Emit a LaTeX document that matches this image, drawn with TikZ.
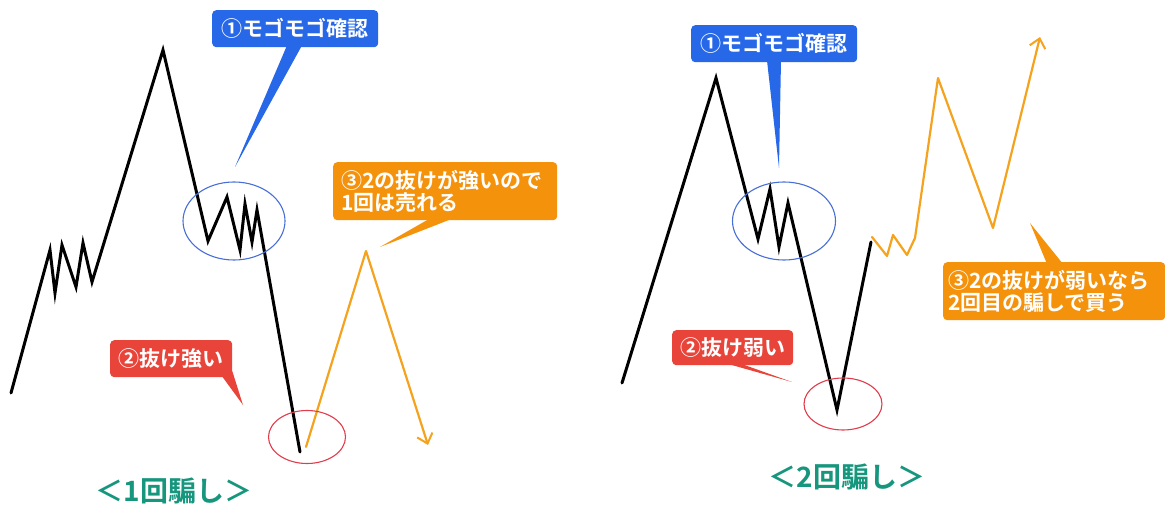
\documentclass[tikz,border=0pt]{standalone}
\usepackage{fontspec}
\newfontfamily\jp{Noto Sans CJK JP}[BoldFont={Noto Sans CJK JP Bold}]
\usetikzlibrary{arrows.meta,shapes.geometric,calc}
\definecolor{cblue}{RGB}{38,104,232}
\definecolor{corange}{RGB}{245,146,12}
\definecolor{cred}{RGB}{232,68,58}
\definecolor{lorange}{RGB}{245,163,30}
\definecolor{eblue}{RGB}{72,110,215}
\definecolor{ered}{RGB}{225,60,75}
\definecolor{cteal}{RGB}{22,150,125}
\begin{document}
\begin{tikzpicture}[x=1pt,y=-1pt,
  callout/.style={rounded corners=4pt, text=white, inner sep=0pt, anchor=north west,
    font=\jp\bfseries\fontsize{21}{22}\selectfont},
  twoline/.style={align=left, text width=#1},
  price/.style={line width=3pt, line join=miter, line cap=round},
  future/.style={lorange, line width=2.2pt, line join=round, line cap=round},
  tip/.style={-{Straight Barb[length=9pt,width=16pt,line width=2pt]}},
  ring/.style={ellipse, draw, line width=1.1pt, inner sep=0pt},
  title/.style={cteal, font=\jp\bfseries\fontsize{28}{30}\selectfont}]
\useasboundingbox (0,0) rectangle (1165,510);

% ---------------- left chart ----------------
\draw[price] (11,393) -- (50,250) -- (55,293) -- (62,245) -- (76,287) -- (83,243)
  -- (92,282) -- (163,50) -- (208,241) -- (227,197) -- (240,250) -- (245,204)
  -- (252,242) -- (257,210) -- (300,452);
\draw[future, tip] (306,447) -- (366,251) -- (428,445);

\node[ring, eblue, minimum width=102pt, minimum height=78pt] (e1) at (234,221) {};
\node[ring, ered, minimum width=77pt, minimum height=53pt] (r1) at (307,437) {};

\node[callout, fill=cblue, minimum width=166pt, minimum height=37pt] (b1) at (212,10) {①モゴモゴ確認};
\coordinate (b1t) at (235,167);
\fill[cblue] ($(b1.south west)+(75,-2)$) -- (b1t) -- ($(b1.south west)+(90,-2)$) -- cycle;

\node[callout, fill=corange, minimum width=224pt, minimum height=58pt, twoline=208pt] (o1) at (333,162)
  {③2の抜けが強いので\\1回は売れる};
\coordinate (o1t) at (380,247);
\fill[corange] ($(o1.south west)+(97,-2)$) -- (o1t) -- ($(o1.south west)+(120,-2)$) -- cycle;

\node[callout, fill=cred, minimum width=122pt, minimum height=37pt] (d1) at (110,340) {②抜け強い};
\coordinate (d1t) at (243,405);
\fill[cred] ($(d1.south east)+(-11,-2)$) -- (d1t) -- ($(d1.south east)+(0,-6)$) -- cycle;

\node[title] (t1) at (174,491) {＜1回騙し＞};

% ---------------- right chart ----------------
\draw[price] (622,383) -- (716,78) -- (758,239) -- (770,189) -- (779,247) -- (788,203)
  -- (837,410) -- (871,242);
\draw[future, tip] (872,237) -- (887,256) -- (893,235) -- (907,255) -- (915,238)
  -- (938,78) -- (993,228) -- (1040,37);

\node[ring, eblue, minimum width=103pt, minimum height=78pt] (e2) at (784,221) {};
\node[ring, ered, minimum width=78pt, minimum height=52pt] (r2) at (843,404) {};

\node[callout, fill=cblue, minimum width=166pt, minimum height=37pt] (b2) at (691,25) {①モゴモゴ確認};
\coordinate (b2t) at (779,168);
\fill[cblue] ($(b2.south west)+(76,-2)$) -- (b2t) -- ($(b2.south west)+(90,-2)$) -- cycle;

\node[callout, fill=cred, minimum width=121pt, minimum height=35pt] (d2) at (672,330) {②抜け弱い};
\coordinate (d2t) at (792,382);
\fill[cred] ($(d2.south west)+(54,-2)$) -- (d2t) -- ($(d2.south west)+(68,-2)$) -- cycle;

\node[callout, fill=corange, minimum width=222pt, minimum height=58pt, twoline=212pt] (o2) at (943,262)
  {③2の抜けが弱いなら\\2回目の騙しで買う};
\coordinate (o2t) at (1030,223);
\fill[corange] ($(o2.north west)+(104,2)$) -- (o2t) -- ($(o2.north west)+(120,2)$) -- cycle;

\node[title] (t2) at (847,477) {＜2回騙し＞};
\end{tikzpicture}
\end{document}
